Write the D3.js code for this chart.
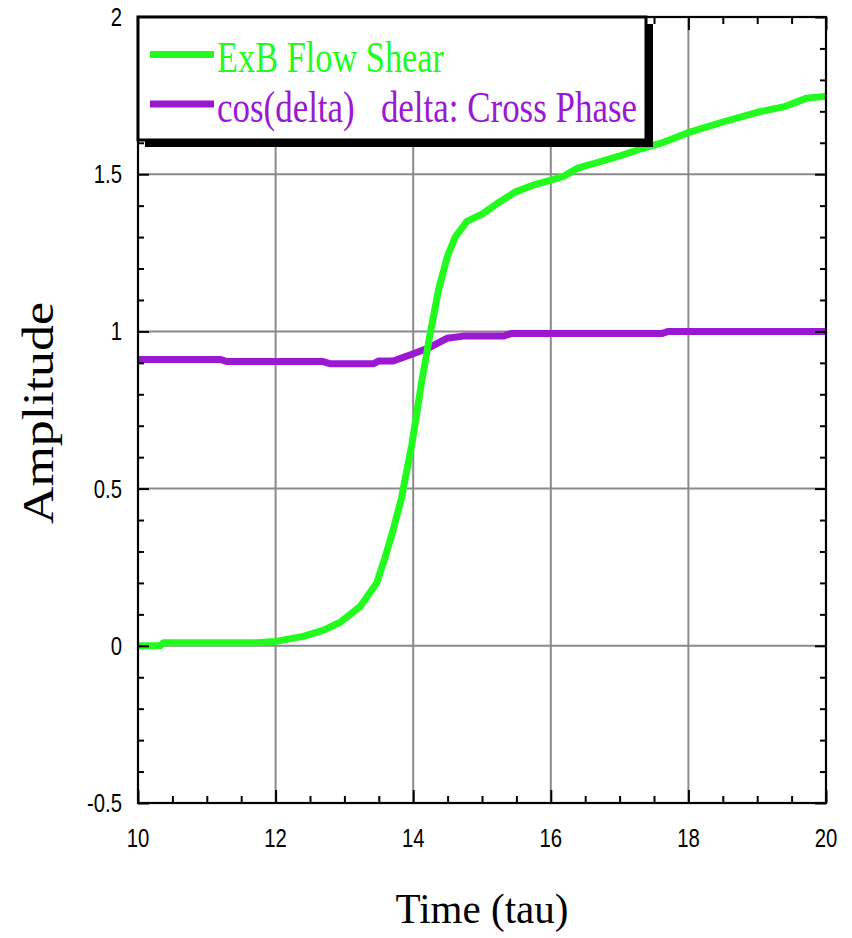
<!DOCTYPE html>
<html>
<head>
<meta charset="utf-8">
<script src="https://cdn.jsdelivr.net/npm/d3@7"></script>
<style>
  body { margin: 0; background: #fff; }
  svg { display: block; }
</style>
</head>
<body>
<svg id="chart" width="852" height="938"></svg>
<script>
// ExB flow shear (green) sampled over time
const shearTime  = [10, 10.32, 10.37, 11.73, 12.0, 12.4, 12.7, 12.94, 13.23, 13.47, 13.59, 13.71, 13.83, 13.98,
                    14.12, 14.24, 14.37, 14.5, 14.61, 14.78, 15.0, 15.21, 15.48, 15.74, 15.99, 16.19, 16.4,
                    16.69, 17.0, 17.3, 17.66, 18.02, 18.5, 19.0, 19.4, 19.72, 20];
const shearValue = [0, 0, 0.01, 0.01, 0.014, 0.03, 0.05, 0.075, 0.125, 0.2, 0.28, 0.37, 0.47, 0.64,
                    0.835, 0.985, 1.134, 1.24, 1.3, 1.35, 1.373, 1.405, 1.443, 1.465, 1.48, 1.494, 1.52,
                    1.538, 1.558, 1.58, 1.603, 1.634, 1.666, 1.697, 1.715, 1.742, 1.748];

// cos(delta), delta = cross phase (purple)
const phaseTime  = [10, 11.19, 11.3, 12.69, 12.8, 13.42, 13.5, 13.71, 14.05, 14.24, 14.49, 14.73,
                    15.31, 15.42, 17.62, 17.7, 20];
const phaseValue = [0.911, 0.911, 0.904, 0.904, 0.897, 0.897, 0.906, 0.906, 0.933, 0.949, 0.978, 0.985,
                    0.985, 0.993, 0.993, 1.0, 1.0];

const xTicks = [10, 12, 14, 16, 18, 20];
const yTicks = [-0.5, 0, 0.5, 1, 1.5, 2];
const xTickLabels = ["10", "12", "14", "16", "18", "20"];
const yTickLabels = ["-0.5", "0", "0.5", "1", "1.5", "2"];
const seriesNames = ["ExB Flow Shear", "cos(delta)   delta: Cross Phase"];
const seriesColors = ["#22fb1e", "#9b18d3"];
const xTitle = "Time (tau)";
const yTitle = "Amplitude";

const box = { left: 138, right: 826, top: 17, bottom: 803 };
const x = d3.scaleLinear().domain([10, 20]).range([box.left, box.right]);
const y = d3.scaleLinear().domain([-0.5, 2]).range([box.bottom, box.top]);
const W = box.right - box.left, H = box.bottom - box.top;

const xMinor = d3.range(20, 41).map(i => i / 2).filter(v => !xTicks.includes(v));
const yMinor = d3.range(-5, 21).map(i => i / 10).filter(v => !yTicks.some(t => Math.abs(t - v) < 1e-9));

const svg = d3.select("#chart");

// grid lines
const grid = svg.append("g").attr("stroke", "#8a8a8a").attr("stroke-width", 2);
grid.selectAll("line.gx").data(xTicks.slice(1, -1)).join("line")
  .attr("x1", d => x(d)).attr("x2", d => x(d)).attr("y1", box.top).attr("y2", box.bottom);
grid.selectAll("line.gy").data(yTicks.slice(1, -1)).join("line")
  .attr("x1", box.left).attr("x2", box.right).attr("y1", d => y(d)).attr("y2", d => y(d));

// data curves
const line = d3.line().x(d => x(d[0])).y(d => y(d[1]));
svg.append("path")
  .datum(phaseTime.map((t, i) => [t, phaseValue[i]]))
  .attr("d", line).attr("fill", "none").attr("stroke", seriesColors[1])
  .attr("stroke-width", 7).attr("stroke-linejoin", "round");
svg.append("path")
  .datum(shearTime.map((t, i) => [t, shearValue[i]]))
  .attr("d", line).attr("fill", "none").attr("stroke", seriesColors[0])
  .attr("stroke-width", 7).attr("stroke-linejoin", "round");

// axes: ticks point inward on all four sides
function ticks(axisFn, scale, vals, size, transform) {
  const g = svg.append("g").attr("transform", transform)
    .call(axisFn(scale).tickValues(vals).tickSize(size).tickFormat(""));
  g.select(".domain").remove();
  g.selectAll("line").attr("stroke", "#000").attr("stroke-width", 2);
}
ticks(d3.axisBottom, x, xTicks, -13, `translate(0,${box.bottom})`);
ticks(d3.axisBottom, x, xMinor, -7, `translate(0,${box.bottom})`);
ticks(d3.axisTop, x, xTicks, -13, `translate(0,${box.top})`);
ticks(d3.axisTop, x, xMinor, -7, `translate(0,${box.top})`);
ticks(d3.axisLeft, y, yTicks, -11, `translate(${box.left},0)`);
ticks(d3.axisLeft, y, yMinor, -6, `translate(${box.left},0)`);
ticks(d3.axisRight, y, yTicks, -11, `translate(${box.right},0)`);
ticks(d3.axisRight, y, yMinor, -6, `translate(${box.right},0)`);

svg.append("rect").attr("x", box.left).attr("y", box.top).attr("width", W).attr("height", H)
  .attr("fill", "none").attr("stroke", "#000").attr("stroke-width", 2.2);

// tick labels
const tickFont = "'Liberation Sans', Arial, sans-serif";
svg.append("g").selectAll("text").data(xTicks).join("text")
  .attr("transform", d => `translate(${x(d)},${847}) scale(0.78,1)`)
  .attr("text-anchor", "middle").attr("font-family", tickFont).attr("font-size", 26)
  .text((d, i) => xTickLabels[i]);
svg.append("g").selectAll("text").data(yTicks).join("text")
  .attr("transform", d => `translate(${122},${y(d) + 9}) scale(0.78,1)`)
  .attr("text-anchor", "end").attr("font-family", tickFont).attr("font-size", 26)
  .text((d, i) => yTickLabels[i]);

// axis titles
const serif = "'Liberation Serif', 'Times New Roman', serif";
svg.append("text").attr("x", (box.left + box.right) / 2).attr("y", 923)
  .attr("text-anchor", "middle").attr("font-family", serif).attr("font-size", 42)
  .attr("textLength", 173).attr("lengthAdjust", "spacingAndGlyphs").text(xTitle);
svg.append("text").attr("transform", `translate(53,${(box.top + box.bottom) / 2 + 3}) rotate(-90)`)
  .attr("text-anchor", "middle").attr("font-family", serif).attr("font-size", 44)
  .attr("textLength", 222).attr("lengthAdjust", "spacingAndGlyphs").text(yTitle);

// legend with drop shadow
const lg = { x: box.left, y: box.top, w: 508, h: 123, off: 7 };
svg.append("rect").attr("x", lg.x + lg.off).attr("y", lg.y + lg.off).attr("width", lg.w).attr("height", lg.h)
  .attr("fill", "#000");
svg.append("rect").attr("x", lg.x).attr("y", lg.y).attr("width", lg.w).attr("height", lg.h)
  .attr("fill", "#fff").attr("stroke", "#000").attr("stroke-width", 3);
const legendRows = [
  { lineY: 54.5, textY: 72, len: 227 },
  { lineY: 104, textY: 122, len: 420 }
];
legendRows.forEach((r, i) => {
  svg.append("line").attr("x1", 150).attr("x2", 214).attr("y1", r.lineY).attr("y2", r.lineY)
    .attr("stroke", seriesColors[i]).attr("stroke-width", 7);
  svg.append("text").attr("x", 217).attr("y", r.textY)
    .attr("font-family", serif).attr("font-size", 45).attr("fill", seriesColors[i])
    .style("white-space", "pre")
    .attr("textLength", r.len).attr("lengthAdjust", "spacingAndGlyphs")
    .text(seriesNames[i]);
});
</script>
</body>
</html>
